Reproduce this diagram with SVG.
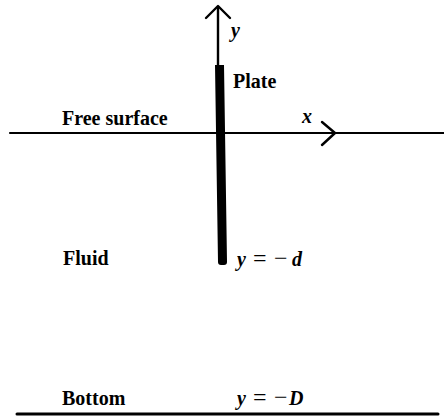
<svg xmlns="http://www.w3.org/2000/svg" width="444" height="418" viewBox="0 0 444 418">
<style>
.lbl{font-family:"Liberation Serif","Times New Roman",serif;font-size:20px;font-weight:bold;fill:#000}
.it{font-style:italic}
.op{font-size:24px;font-style:normal;font-weight:normal}
.ln{stroke:#000;fill:none;stroke-linecap:round;stroke-linejoin:round}
</style>
<rect width="444" height="418" fill="#fff"/>
<g id="connectors">
<line class="ln" x1="10" y1="133" x2="444" y2="133" stroke-width="2.2"/>
<polyline class="ln" points="322,122 335,133 322,145" stroke-width="2.4"/>
<line class="ln" x1="218" y1="7" x2="218" y2="70" stroke-width="2.4"/>
<polyline class="ln" points="206,18 218,6 230,18" stroke-width="2.4"/>
<line class="ln" x1="17" y1="414" x2="438" y2="414" stroke-width="3"/>
</g>
<g id="plate">
<path d="M215,65 L224,65 L227,262 Q227,265 224,265 L221,265 Q218,265 218,262 Z" fill="#000"/>
<text class="lbl" x="233" y="88">Plate</text>
</g>
<g id="axis-labels">
<text class="lbl it" x="231" y="37">y</text>
<text class="lbl it" x="302" y="123">x</text>
</g>
<g id="free-surface"><text class="lbl" x="62" y="125">Free surface</text></g>
<g id="fluid"><text class="lbl" x="63" y="265">Fluid</text></g>
<g id="plate-depth"><text class="lbl it" y="266"><tspan x="237">y</tspan><tspan class="op" x="253">=</tspan><tspan class="op" x="274">−</tspan><tspan x="292">d</tspan></text></g>
<g id="bottom">
<text class="lbl" x="62" y="405">Bottom</text>
<text class="lbl it" y="405"><tspan x="237">y</tspan><tspan class="op" x="253">=</tspan><tspan class="op" x="274">−</tspan><tspan x="289">D</tspan></text>
</g>
</svg>
